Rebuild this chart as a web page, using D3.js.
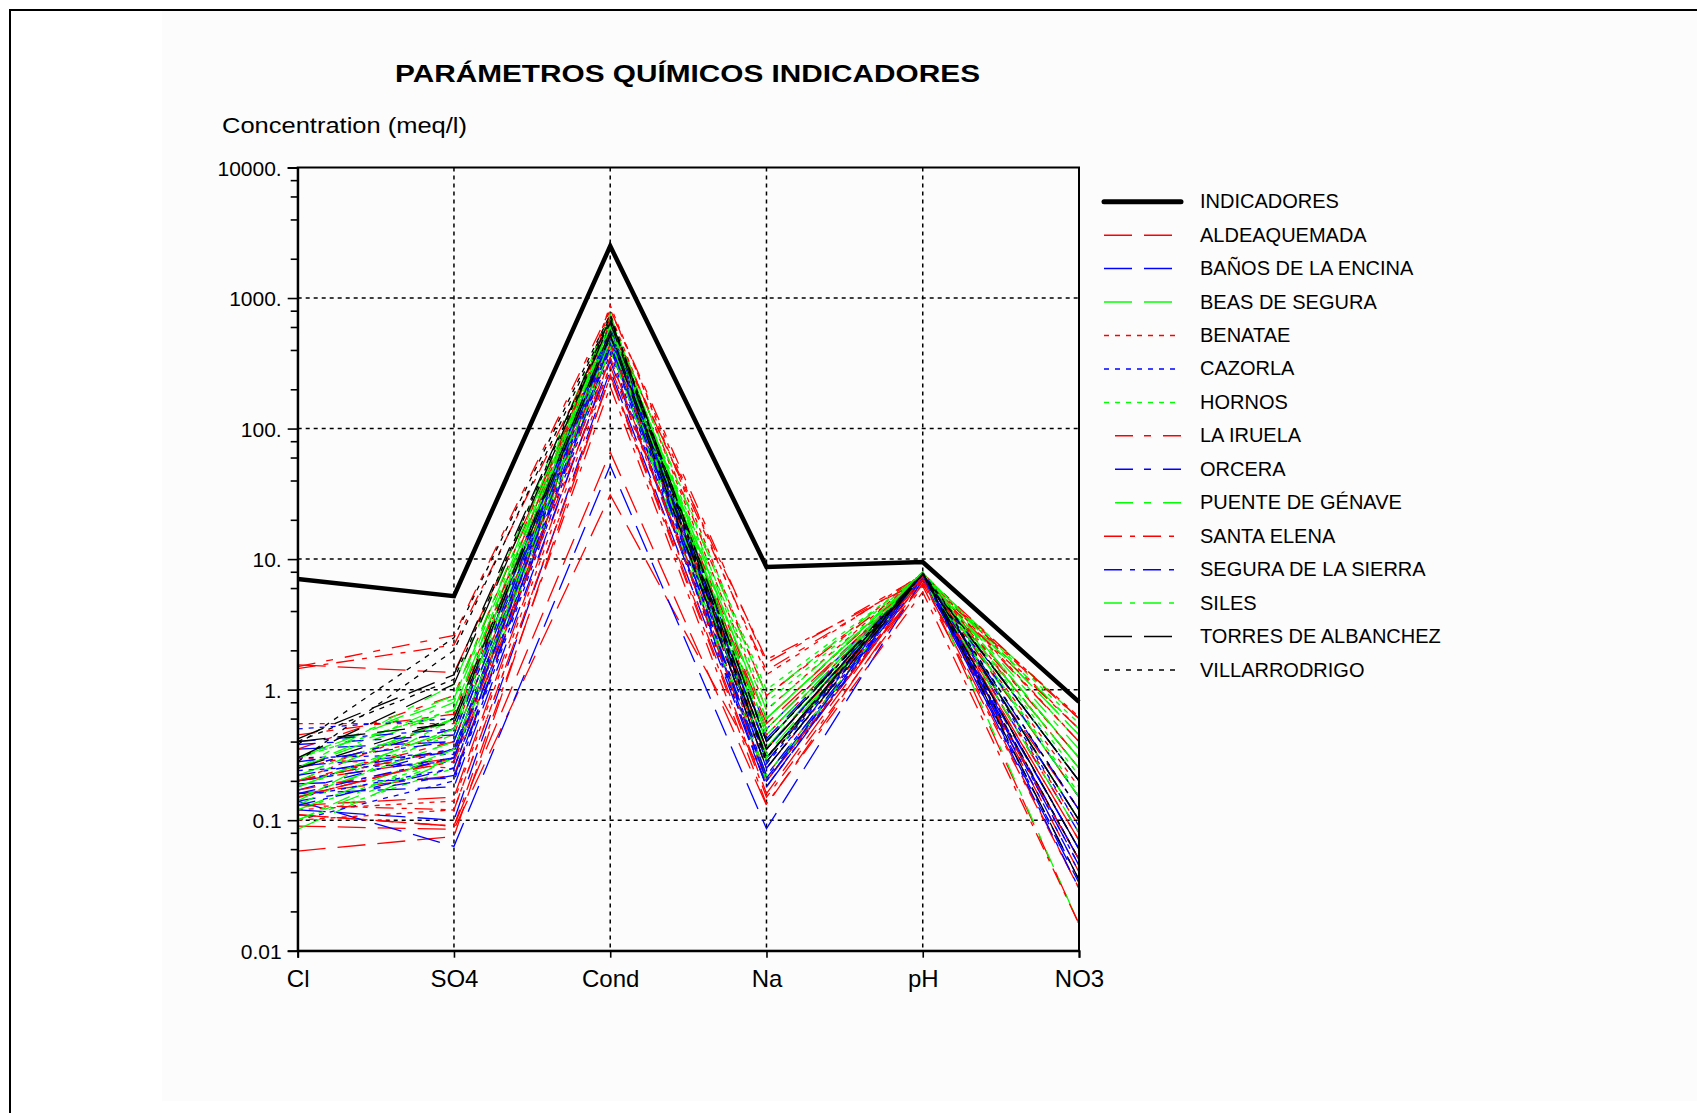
<!DOCTYPE html>
<html>
<head>
<meta charset="utf-8">
<script src="https://cdn.jsdelivr.net/npm/d3@7"></script>
<style>
  body { margin: 0; background: #fff; }
  svg text { font-family: "Liberation Sans", Arial, sans-serif; fill: #000; }
</style>
</head>
<body>
<div class="chart"></div>
<script>
// parameters on the x axis
var categories = ["Cl", "SO4", "Cond", "Na", "pH", "NO3"];
var yTicks = [0.01, 0.1, 1, 10, 100, 1000, 10000];
var yTickLabels = ["0.01", "0.1", "1.", "10.", "100.", "1000.", "10000."];

// guide values (thick black line)
var indicadores = [7.04, 5.2, 2500, 8.7, 9.5, 0.806];

// samples per municipality: [Cl, SO4, Cond, Na, pH, NO3]
var aldeaquemada = [
  [1.55, 1.35, 480, 0.55, 7.3, 0.05],
  [0.09, 0.085, 31, 0.2, 6.4, 0.12],
  [0.11, 0.09, 66, 0.13, 6.8, 0.03],
  [0.058, 0.075, 260, 0.16, 7.1, 0.016],
  [0.16, 0.22, 420, 0.3, 7.5, 0.04],
  [0.13, 0.15, 350, 0.22, 7.4, 0.07],
  [0.2, 0.3, 520, 0.35, 7.6, 0.1]
];
var banosEncina = [
  [0.14, 0.063, 52, 0.086, 7.0, 0.05],
  [0.35, 0.4, 560, 0.5, 7.7, 0.045],
  [0.19, 0.21, 420, 0.3, 7.5, 0.12],
  [0.16, 0.18, 330, 0.21, 7.3, 0.033],
  [0.26, 0.33, 600, 0.42, 7.8, 0.08],
  [0.12, 0.1, 280, 0.18, 7.2, 0.06]
];
var beasSegura = [
  [0.085, 0.3, 500, 0.32, 7.9, 0.3],
  [0.22, 0.6, 620, 0.36, 7.8, 0.45],
  [0.3, 0.85, 720, 0.45, 7.7, 0.2],
  [0.18, 0.5, 560, 0.28, 7.6, 0.6],
  [0.12, 0.35, 470, 0.22, 7.5, 0.15],
  [0.25, 0.7, 650, 0.6, 7.9, 0.1]
];
var benatae = [
  [0.55, 0.55, 640, 0.45, 7.6, 0.3],
  [0.25, 0.45, 820, 1.3, 7.7, 0.5],
  [0.15, 0.3, 880, 0.9, 7.8, 0.25],
  [0.3, 0.25, 400, 0.3, 7.4, 0.18],
  [0.12, 0.14, 300, 0.25, 7.2, 0.62],
  [0.2, 0.6, 760, 0.7, 7.9, 0.4],
  [0.1, 0.12, 250, 0.2, 6.9, 0.09]
];
var cazorla = [
  [0.2, 0.35, 480, 0.25, 7.8, 0.12],
  [0.3, 0.32, 550, 0.3, 7.9, 0.09],
  [0.15, 0.25, 420, 0.2, 7.7, 0.06],
  [0.5, 0.6, 600, 0.4, 7.6, 0.2],
  [0.1, 0.2, 380, 0.18, 7.8, 0.045],
  [0.24, 0.28, 520, 0.27, 7.5, 0.035]
];
var hornos = [
  [0.18, 0.45, 520, 0.5, 7.9, 0.3],
  [0.22, 0.6, 600, 0.8, 7.8, 0.22],
  [0.12, 0.3, 450, 0.35, 7.6, 0.4],
  [0.3, 0.7, 680, 1.0, 7.7, 0.55],
  [0.1, 0.25, 400, 0.3, 7.8, 0.1],
  [0.15, 0.4, 560, 0.6, 8.0, 0.16]
];
var laIruela = [
  [1.5, 2.6, 820, 1.6, 7.5, 0.25],
  [0.35, 0.9, 650, 1.4, 7.4, 0.4],
  [0.25, 0.5, 500, 0.6, 7.6, 0.15],
  [0.2, 0.4, 560, 0.5, 7.7, 0.6],
  [0.15, 0.3, 450, 0.3, 7.5, 0.08],
  [0.45, 0.65, 700, 0.9, 7.3, 0.3]
];
var orcera = [
  [0.38, 0.45, 560, 0.35, 7.8, 0.1],
  [0.2, 0.3, 480, 0.25, 7.7, 0.06],
  [0.14, 0.22, 420, 0.18, 7.6, 0.035],
  [0.25, 0.5, 620, 0.4, 7.9, 0.15],
  [0.17, 0.35, 520, 0.3, 7.7, 0.05]
];
var puenteGenave = [
  [0.3, 0.9, 700, 0.9, 7.8, 0.5],
  [0.2, 0.6, 600, 0.6, 7.7, 0.35],
  [0.15, 0.4, 500, 0.3, 7.9, 0.1],
  [0.25, 1.1, 750, 0.4, 7.6, 0.25],
  [0.1, 0.3, 420, 0.2, 7.8, 0.016],
  [0.13, 0.5, 560, 0.45, 7.8, 0.2]
];
var santaElena = [
  [1.45, 2.2, 600, 1.7, 6.9, 0.5],
  [0.13, 0.12, 250, 0.15, 6.2, 0.03],
  [0.11, 0.09, 210, 0.133, 5.6, 0.016],
  [0.15, 0.3, 350, 0.2, 6.5, 0.05],
  [0.17, 0.28, 300, 0.3, 7.0, 0.6],
  [0.2, 0.35, 450, 0.35, 7.3, 0.07]
];
var seguraSierra = [
  [0.16, 0.3, 500, 0.2, 7.8, 0.04],
  [0.22, 0.35, 520, 0.28, 7.9, 0.1],
  [0.13, 0.25, 450, 0.22, 7.7, 0.06],
  [0.28, 0.4, 560, 0.35, 7.8, 0.2],
  [0.4, 0.5, 600, 0.3, 7.6, 0.03]
];
var siles = [
  [0.18, 0.5, 560, 0.4, 7.9, 0.45],
  [0.25, 0.8, 650, 0.6, 7.8, 0.3],
  [0.1, 0.35, 480, 0.3, 8.0, 0.15],
  [0.14, 0.6, 600, 0.5, 7.7, 0.08],
  [0.3, 0.7, 620, 0.7, 7.6, 0.25]
];
var torresAlbanchez = [
  [0.42, 1.3, 700, 0.4, 7.8, 0.06],
  [0.3, 1.1, 650, 0.35, 7.7, 0.1],
  [0.25, 0.6, 560, 0.3, 7.9, 0.035],
  [0.4, 0.55, 520, 0.25, 7.6, 0.2]
];
var villarrodrigo = [
  [0.38, 2.5, 750, 0.3, 7.7, 0.12],
  [0.4, 1.2, 680, 0.4, 7.6, 0.05],
  [0.28, 2.0, 720, 0.28, 7.8, 0.2]
];

var series = [
  {name: "ALDEAQUEMADA", color: "#ff0000", dash: "28,12", rows: aldeaquemada},
  {name: "BAÑOS DE LA ENCINA", color: "#0000ff", dash: "28,12", rows: banosEncina},
  {name: "BEAS DE SEGURA", color: "#00ff00", dash: "28,12", rows: beasSegura},
  {name: "BENATAE", color: "#ff0000", dash: "5,6", rows: benatae},
  {name: "CAZORLA", color: "#0000ff", dash: "5,6", rows: cazorla},
  {name: "HORNOS", color: "#00ff00", dash: "5,6", rows: hornos},
  {name: "LA IRUELA", color: "#ff0000", dash: "18,11,7,12", rows: laIruela},
  {name: "ORCERA", color: "#0000ff", dash: "18,11,7,12", rows: orcera},
  {name: "PUENTE DE GÉNAVE", color: "#00ff00", dash: "18,11,7,12", rows: puenteGenave},
  {name: "SANTA ELENA", color: "#ff0000", dash: "18,8,5,8", rows: santaElena},
  {name: "SEGURA DE LA SIERRA", color: "#0000ff", dash: "18,8,5,8", rows: seguraSierra},
  {name: "SILES", color: "#00ff00", dash: "18,8,5,8", rows: siles},
  {name: "TORRES DE ALBANCHEZ", color: "#000000", dash: "28,12", rows: torresAlbanchez},
  {name: "VILLARRODRIGO", color: "#000000", dash: "5,6", rows: villarrodrigo}
];

var width = 1697, height = 1113;
var svg = d3.select("div.chart")
    .append("svg")
    .attr("width", width)
    .attr("height", height);

// faint panel and page border
svg.append("rect")
    .attr("x", 162).attr("y", 11)
    .attr("width", width - 162).attr("height", 1090)
    .attr("fill", "#fcfcfc");
svg.append("path")
    .attr("d", "M10," + height + "V10H" + width)
    .attr("fill", "none")
    .attr("stroke", "#000")
    .attr("stroke-width", 2);

var x = d3.scalePoint().domain(categories).range([297.7, 1079]);
var y = d3.scaleLog().domain([0.01, 10000]).range([950.7, 167.5]);

// grid
var grid = svg.append("g").attr("class", "grid")
    .attr("stroke", "#000")
    .attr("stroke-width", 1.5)
    .attr("stroke-dasharray", "4,4");
grid.selectAll("line.h")
    .data(yTicks.slice(1, -1))
    .enter()
    .append("line")
    .attr("class", "h")
    .attr("x1", x.range()[0]).attr("x2", x.range()[1])
    .attr("y1", function(d){return y(d);})
    .attr("y2", function(d){return y(d);});
grid.selectAll("line.v")
    .data(categories.slice(1, -1))
    .enter()
    .append("line")
    .attr("class", "v")
    .attr("y1", y(10000)).attr("y2", y(0.01))
    .attr("x1", function(d){return x(d);})
    .attr("x2", function(d){return x(d);});

// sample lines
var line = d3.line()
    .x(function(d, i){return x(categories[i]);})
    .y(function(d){return y(d);});

series.forEach(function(s){
    svg.append("g")
        .selectAll("path")
        .data(s.rows)
        .enter()
        .append("path")
        .attr("d", line)
        .attr("fill", "none")
        .attr("stroke", s.color)
        .attr("stroke-width", 1.3)
        .attr("stroke-dasharray", s.dash);
});

svg.append("path")
    .datum(indicadores)
    .attr("d", line)
    .attr("fill", "none")
    .attr("stroke", "#000")
    .attr("stroke-width", 4.5)
    .attr("stroke-linejoin", "miter");

// frame
svg.append("rect")
    .attr("x", x.range()[0]).attr("y", y(10000))
    .attr("width", x.range()[1] - x.range()[0])
    .attr("height", y(0.01) - y(10000))
    .attr("fill", "none")
    .attr("stroke", "#000")
    .attr("stroke-width", 2);

// y axis: decades with labels, minor ticks 2,4,6,8
var minor = [];
yTicks.slice(0, -1).forEach(function(d){
    [2, 4, 6, 8].forEach(function(m){ minor.push(d * m); });
});
svg.append("g")
    .attr("transform", "translate(" + x.range()[0] + ",0)")
    .call(d3.axisLeft(y).tickValues(minor).tickSize(7).tickFormat(""))
    .call(function(g){ g.select(".domain").remove(); })
    .selectAll("line").attr("stroke-width", 1.6);
var yAxis = svg.append("g")
    .attr("transform", "translate(" + x.range()[0] + ",0)")
    .call(d3.axisLeft(y).tickValues(yTicks).tickSize(10).tickPadding(6)
        .tickFormat(function(d, i){return yTickLabels[i];}));
yAxis.select(".domain").attr("stroke-width", 2);
yAxis.selectAll("line").attr("stroke-width", 1.6);
yAxis.selectAll("text")
    .style("font-size", "21px")
    .attr("dy", "0.36em");

// x axis
var xAxis = svg.append("g")
    .attr("transform", "translate(0," + y(0.01) + ")")
    .call(d3.axisBottom(x).tickSize(7).tickPadding(12));
xAxis.select(".domain").attr("stroke-width", 2);
xAxis.selectAll("line").attr("stroke-width", 1.6);
xAxis.selectAll("text")
    .style("font-size", "24px")
    .attr("dy", "0.71em");

// title and y label
svg.append("text")
    .attr("x", 395).attr("y", 81.7)
    .attr("textLength", 585)
    .attr("lengthAdjust", "spacingAndGlyphs")
    .style("font-size", "23px")
    .style("font-weight", "bold")
    .text("PARÁMETROS QUÍMICOS INDICADORES");
svg.append("text")
    .attr("x", 222).attr("y", 133)
    .attr("textLength", 245)
    .attr("lengthAdjust", "spacingAndGlyphs")
    .style("font-size", "22px")
    .text("Concentration (meq/l)");

// legend
var legendItems = [{name: "INDICADORES", color: "#000", dash: null, width: 5}]
    .concat(series.map(function(s){
        return {name: s.name, color: s.color, dash: s.dash, width: 1.5};
    }));
var legend = svg.append("g")
    .selectAll("g")
    .data(legendItems)
    .enter()
    .append("g")
    .attr("transform", function(d, i){
        return "translate(0," + (201.7 + i * 33.45) + ")";
    });
legend.append("line")
    .attr("x1", 1104)
    .attr("x2", 1181)
    .attr("stroke", function(d){return d.color;})
    .attr("stroke-width", function(d){return d.width;})
    .attr("stroke-linecap", function(d){return d.dash ? "butt" : "round";})
    .attr("stroke-dasharray", function(d){return d.dash;})
    .attr("stroke-dashoffset", function(d){
        if (d.dash === "18,11,7,12") return 37;
        return 0;
    });
legend.append("text")
    .attr("x", 1200)
    .attr("y", 6.5)
    .style("font-size", "20px")
    .text(function(d){return d.name;});
</script>
</body>
</html>
